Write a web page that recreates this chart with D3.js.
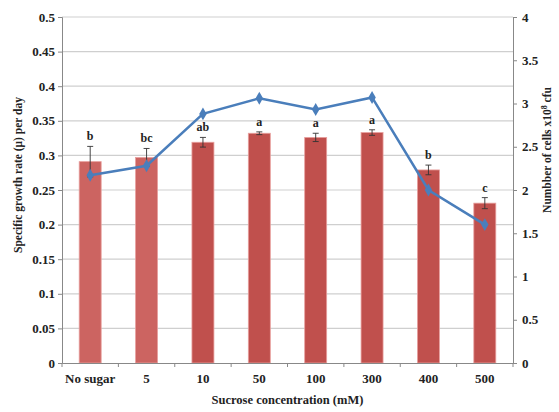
<!DOCTYPE html>
<html>
<head>
<meta charset="utf-8">
<script src="https://cdn.jsdelivr.net/npm/d3@7"></script>
<style>
  body { margin: 0; background: #fff; }
  svg text { font-family: "Liberation Serif", "Times New Roman", serif; font-weight: bold; fill: #222; }
</style>
</head>
<body>
<div id="chart"></div>
<script>
// data
const categories = ['No sugar', '5', '10', '50', '100', '300', '400', '500'];
const growthRate = [0.291, 0.297, 0.319, 0.332, 0.326, 0.333, 0.279, 0.231];
const growthErr = [0.022, 0.013, 0.007, 0.002, 0.006, 0.004, 0.007, 0.008];
const letters = ['b', 'bc', 'ab', 'a', 'a', 'a', 'b', 'c'];
const cellCount = [2.17, 2.28, 2.88, 3.06, 2.93, 3.07, 2.00, 1.60];
const leftTicks = [0, 0.05, 0.1, 0.15, 0.2, 0.25, 0.3, 0.35, 0.4, 0.45, 0.5];
const rightTicks = [0, 0.5, 1, 1.5, 2, 2.5, 3, 3.5, 4];

!(function () {
  'use strict';
  const W = 559, H = 412;
  const m = { top: 17, right: 46, bottom: 49, left: 62 };
  const x0 = m.left, x1 = W - m.right, y0 = H - m.bottom, y1 = m.top;

  const svg = d3.select('#chart').append('svg')
    .attr('width', W).attr('height', H);

  const x = d3.scaleBand().domain(categories).range([x0, x1]).paddingInner(0.61).paddingOuter(0.305);
  const xb = d3.scaleBand().domain(categories).range([x0, x1]);
  const yL = d3.scaleLinear().domain([0, 0.5]).range([y0, y1]);
  const yR = d3.scaleLinear().domain([0, 4]).range([y0, y1]);

  // gridlines
  svg.append('g').selectAll('line').data(leftTicks.slice(1)).join('line')
    .attr('x1', x0).attr('x2', x1)
    .attr('y1', d => yL(d)).attr('y2', d => yL(d))
    .attr('stroke', '#cfcfcf').attr('stroke-width', 1.2);

  // bars
  svg.append('g').selectAll('rect').data(growthRate).join('rect')
    .attr('x', (d, i) => x(categories[i]))
    .attr('width', x.bandwidth())
    .attr('y', d => yL(d))
    .attr('height', d => y0 - yL(d))
    .attr('fill', (d, i) => i < 2 ? '#cc6461' : '#c0504d')
    .attr('stroke', '#e8a09e').attr('stroke-width', 0.8);

  // error bars
  const eb = svg.append('g').attr('stroke', '#333').attr('stroke-width', 0.9);
  growthRate.forEach((v, i) => {
    const cx = xb(categories[i]) + xb.bandwidth() / 2;
    const top = yL(v + growthErr[i]), bot = yL(v - growthErr[i]);
    eb.append('line').attr('x1', cx).attr('x2', cx).attr('y1', top).attr('y2', bot);
    eb.append('line').attr('x1', cx - 3).attr('x2', cx + 3).attr('y1', top).attr('y2', top);
    eb.append('line').attr('x1', cx - 3).attr('x2', cx + 3).attr('y1', bot).attr('y2', bot);
  });

  // significance letters
  svg.append('g').selectAll('text').data(letters).join('text')
    .attr('x', (d, i) => xb(categories[i]) + xb.bandwidth() / 2)
    .attr('y', (d, i) => yL(growthRate[i] + growthErr[i]) - 6)
    .attr('text-anchor', 'middle').style('font-size', '12px')
    .text(d => d);

  // line series
  const line = d3.line()
    .x((d, i) => xb(categories[i]) + xb.bandwidth() / 2)
    .y(d => yR(d));
  svg.append('path').datum(cellCount)
    .attr('d', line).attr('fill', 'none')
    .attr('stroke', '#4a7ebb').attr('stroke-width', 2.5);
  svg.append('g').selectAll('path').data(cellCount).join('path')
    .attr('d', d3.symbol().type(d3.symbolDiamond).size(48))
    .attr('transform', (d, i) => 'translate(' + (xb(categories[i]) + xb.bandwidth() / 2) + ',' + yR(d) + ')')
    .attr('fill', '#4a7ebb');

  // axes
  const axisStyle = g => {
    g.selectAll('.domain').attr('stroke', '#888');
    g.selectAll('.tick line').attr('stroke', '#888');
    g.selectAll('.tick text').style('font-size', '13px').attr('fill', '#222');
  };

  svg.append('g').attr('transform', 'translate(' + x0 + ',0)')
    .call(d3.axisLeft(yL).tickValues(leftTicks).tickFormat(d3.format('')).tickSize(4).tickPadding(3))
    .call(axisStyle);

  svg.append('g').attr('transform', 'translate(' + x1 + ',0)')
    .call(d3.axisRight(yR).tickValues(rightTicks).tickFormat(d3.format('')).tickSize(4).tickPadding(5))
    .call(axisStyle);

  const xAxis = svg.append('g').attr('transform', 'translate(0,' + y0 + ')')
    .call(d3.axisBottom(xb).tickSize(0).tickPadding(11))
    .call(axisStyle);
  xAxis.selectAll('.cat-tick').data(d3.range(categories.length + 1)).join('line')
    .attr('x1', i => x0 + i * xb.step()).attr('x2', i => x0 + i * xb.step())
    .attr('y1', 0).attr('y2', 4).attr('stroke', '#888');

  // axis titles
  svg.append('text')
    .attr('transform', 'translate(22,' + 175 + ') rotate(-90)')
    .attr('text-anchor', 'middle').style('font-size', '11.5px')
    .text('Specific growth rate (\u03bc) per day');

  const rt = svg.append('text')
    .attr('transform', 'translate(551,' + 150 + ') rotate(-90)')
    .attr('text-anchor', 'middle').style('font-size', '11.5px');
  rt.append('tspan').text('Numbber of cells x10');
  rt.append('tspan').attr('dy', -4).style('font-size', '8px').text('8');
  rt.append('tspan').attr('dy', 4).text(' cfu');

  svg.append('text')
    .attr('x', (x0 + x1) / 2).attr('y', 404)
    .attr('text-anchor', 'middle').style('font-size', '12.5px')
    .text('Sucrose concentration (mM)');
}());
</script>
</body>
</html>
